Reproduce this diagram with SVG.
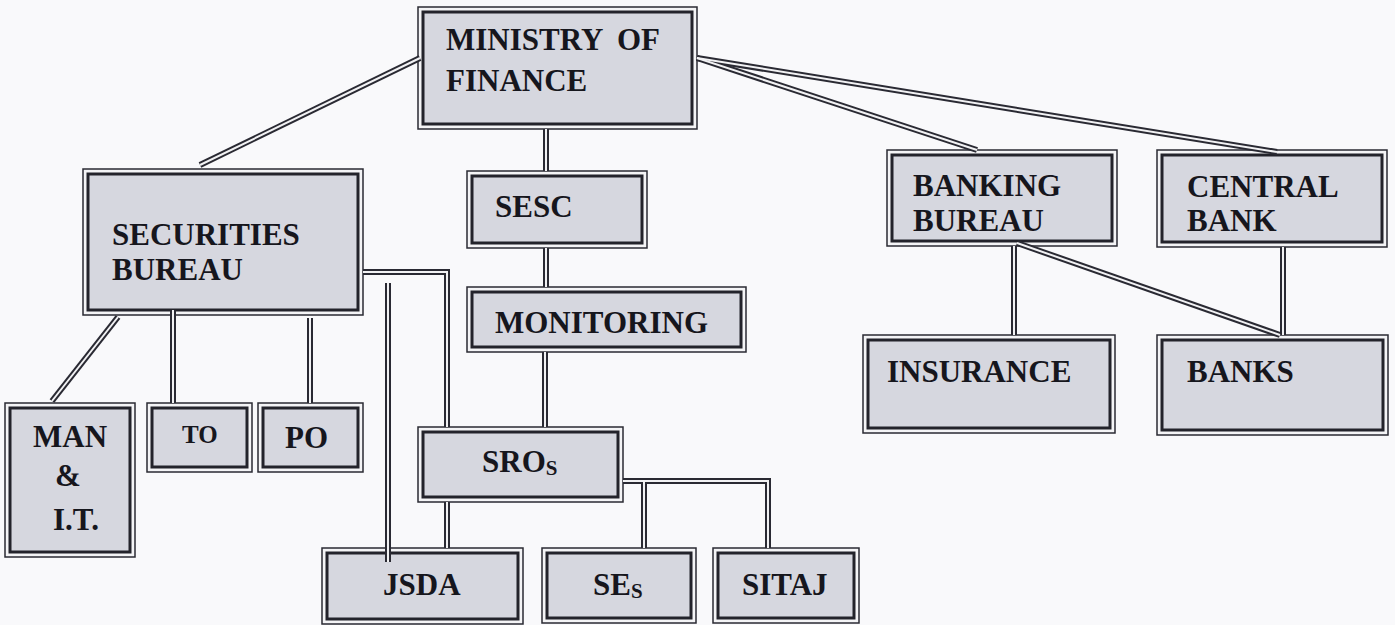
<svg xmlns="http://www.w3.org/2000/svg" xmlns:xlink="http://www.w3.org/1999/xlink" width="1395" height="625" viewBox="0 0 1395 625">
  <style>
    .frame { fill: #f4f4f6; stroke: #2a2a33; stroke-width: 1.5; }
    .panel { fill: #d6d7df; stroke: #23232b; stroke-width: 3; }
    .label { font-family: "Liberation Serif", "Times New Roman", serif; font-weight: bold; font-size: 31px; fill: #16161d; }
    .small { font-size: 25px; }
    .sub { font-size: 21px; }
    .wire-dark { fill: none; stroke: #2a2a33; stroke-width: 6; stroke-linejoin: miter; }
    .wire-light { fill: none; stroke: #f2f2f4; stroke-width: 2; stroke-linejoin: miter; }
  </style>
  <defs>
    <!-- connector geometry, drawn twice: dark body then light centre stripe -->
    <path id="w-mof-sec" d="M420,58 L200,165"/>
    <path id="w-mof-bank" d="M697,58 L977,150"/>
    <path id="w-mof-cb" d="M697,58 L1277,152"/>
    <path id="w-mof-sesc" d="M546,129 V171"/>
    <path id="w-sesc-mon" d="M546,248 V287"/>
    <path id="w-mon-sro" d="M545,352 V427"/>
    <path id="w-sec-sro" d="M363,272 H447 V427"/>
    <path id="w-sec-jsda" d="M388,283 V562"/>
    <path id="w-sro-jsda" d="M447,502 V548"/>
    <path id="w-sro-sitaj" d="M623,481 H768 V548"/>
    <path id="w-sro-ses" d="M644,481 V548"/>
    <path id="w-bank-ins" d="M1014,246 V335"/>
    <path id="w-bank-banks" d="M1017,243 L1280,335"/>
    <path id="w-cb-banks" d="M1283,247 V335"/>
    <path id="w-sec-man" d="M118,317 L52,401"/>
    <path id="w-sec-to" d="M173,310 V403"/>
    <path id="w-sec-po" d="M310,318 V403"/>
  </defs>

  <rect width="1395" height="625" fill="#f9f9fb"/>

  <!-- organisation units -->
  <g id="nodes">
    <g id="ministry-of-finance">
      <rect class="frame" x="418" y="7" width="279" height="122"/>
      <rect class="panel" x="423" y="12" width="269" height="112"/>
      <text class="label"><tspan x="446" y="50">MINISTRY</tspan><tspan x="617" y="50">OF</tspan><tspan x="446" y="91">FINANCE</tspan></text>
    </g>
    <g id="securities-bureau">
      <rect class="frame" x="83" y="169" width="280" height="146"/>
      <rect class="panel" x="88" y="174" width="270" height="136"/>
      <text class="label"><tspan x="112" y="245">SECURITIES</tspan><tspan x="112" y="280">BUREAU</tspan></text>
    </g>
    <g id="sesc">
      <rect class="frame" x="467" y="171" width="180" height="77"/>
      <rect class="panel" x="472" y="176" width="170" height="67"/>
      <text class="label" x="495" y="217">SESC</text>
    </g>
    <g id="monitoring">
      <rect class="frame" x="467" y="287" width="279" height="65"/>
      <rect class="panel" x="472" y="292" width="269" height="55"/>
      <text class="label" x="495" y="333">MONITORING</text>
    </g>
    <g id="banking-bureau">
      <rect class="frame" x="887" y="150" width="230" height="96"/>
      <rect class="panel" x="892" y="155" width="220" height="86"/>
      <text class="label"><tspan x="913" y="196">BANKING</tspan><tspan x="913" y="231">BUREAU</tspan></text>
    </g>
    <g id="central-bank">
      <rect class="frame" x="1157" y="150" width="230" height="97"/>
      <rect class="panel" x="1162" y="155" width="220" height="87"/>
      <text class="label"><tspan x="1187" y="197">CENTRAL</tspan><tspan x="1187" y="231">BANK</tspan></text>
    </g>
    <g id="insurance">
      <rect class="frame" x="863" y="335" width="252" height="98"/>
      <rect class="panel" x="868" y="340" width="242" height="88"/>
      <text class="label" x="887" y="382">INSURANCE</text>
    </g>
    <g id="banks">
      <rect class="frame" x="1157" y="335" width="231" height="100"/>
      <rect class="panel" x="1162" y="340" width="221" height="90"/>
      <text class="label" x="1187" y="382">BANKS</text>
    </g>
    <g id="man-it">
      <rect class="frame" x="5" y="403" width="130" height="154"/>
      <rect class="panel" x="10" y="408" width="120" height="144"/>
      <text class="label"><tspan x="33" y="447">MAN</tspan><tspan x="55" y="486">&amp;</tspan><tspan x="53" y="530">I.T.</tspan></text>
    </g>
    <g id="to">
      <rect class="frame" x="147" y="403" width="105" height="69"/>
      <rect class="panel" x="152" y="408" width="95" height="59"/>
      <text class="label small" x="182" y="443">TO</text>
    </g>
    <g id="po">
      <rect class="frame" x="258" y="403" width="105" height="69"/>
      <rect class="panel" x="263" y="408" width="95" height="59"/>
      <text class="label" x="285" y="448">PO</text>
    </g>
    <g id="sros">
      <rect class="frame" x="418" y="427" width="205" height="75"/>
      <rect class="panel" x="423" y="432" width="195" height="65"/>
      <text class="label" x="482" y="472">SRO<tspan class="sub" dy="3">S</tspan></text>
    </g>
    <g id="jsda">
      <rect class="frame" x="322" y="548" width="201" height="76"/>
      <rect class="panel" x="327" y="553" width="191" height="66"/>
      <text class="label" x="383" y="595">JSDA</text>
    </g>
    <g id="ses">
      <rect class="frame" x="542" y="548" width="154" height="75"/>
      <rect class="panel" x="547" y="553" width="144" height="65"/>
      <text class="label" x="593" y="595">SE<tspan class="sub" dy="3">S</tspan></text>
    </g>
    <g id="sitaj">
      <rect class="frame" x="713" y="548" width="146" height="75"/>
      <rect class="panel" x="718" y="553" width="136" height="65"/>
      <text class="label" x="742" y="595">SITAJ</text>
    </g>
  </g>

  <!-- double-rule connectors -->
  <g id="connectors">
    <g class="wire-dark">
      <use xlink:href="#w-mof-sec"/>
      <use xlink:href="#w-mof-bank"/>
      <use xlink:href="#w-mof-cb"/>
      <use xlink:href="#w-mof-sesc"/>
      <use xlink:href="#w-sesc-mon"/>
      <use xlink:href="#w-mon-sro"/>
      <use xlink:href="#w-sec-sro"/>
      <use xlink:href="#w-sec-jsda"/>
      <use xlink:href="#w-sro-jsda"/>
      <use xlink:href="#w-sro-sitaj"/>
      <use xlink:href="#w-sro-ses"/>
      <use xlink:href="#w-bank-ins"/>
      <use xlink:href="#w-bank-banks"/>
      <use xlink:href="#w-cb-banks"/>
      <use xlink:href="#w-sec-man"/>
      <use xlink:href="#w-sec-to"/>
      <use xlink:href="#w-sec-po"/>
    </g>
    <g class="wire-light">
      <use xlink:href="#w-mof-sec"/>
      <use xlink:href="#w-mof-bank"/>
      <use xlink:href="#w-mof-cb"/>
      <use xlink:href="#w-mof-sesc"/>
      <use xlink:href="#w-sesc-mon"/>
      <use xlink:href="#w-mon-sro"/>
      <use xlink:href="#w-sec-sro"/>
      <use xlink:href="#w-sec-jsda"/>
      <use xlink:href="#w-sro-jsda"/>
      <use xlink:href="#w-sro-sitaj"/>
      <use xlink:href="#w-sro-ses"/>
      <use xlink:href="#w-bank-ins"/>
      <use xlink:href="#w-bank-banks"/>
      <use xlink:href="#w-cb-banks"/>
      <use xlink:href="#w-sec-man"/>
      <use xlink:href="#w-sec-to"/>
      <use xlink:href="#w-sec-po"/>
    </g>
  </g>
</svg>
